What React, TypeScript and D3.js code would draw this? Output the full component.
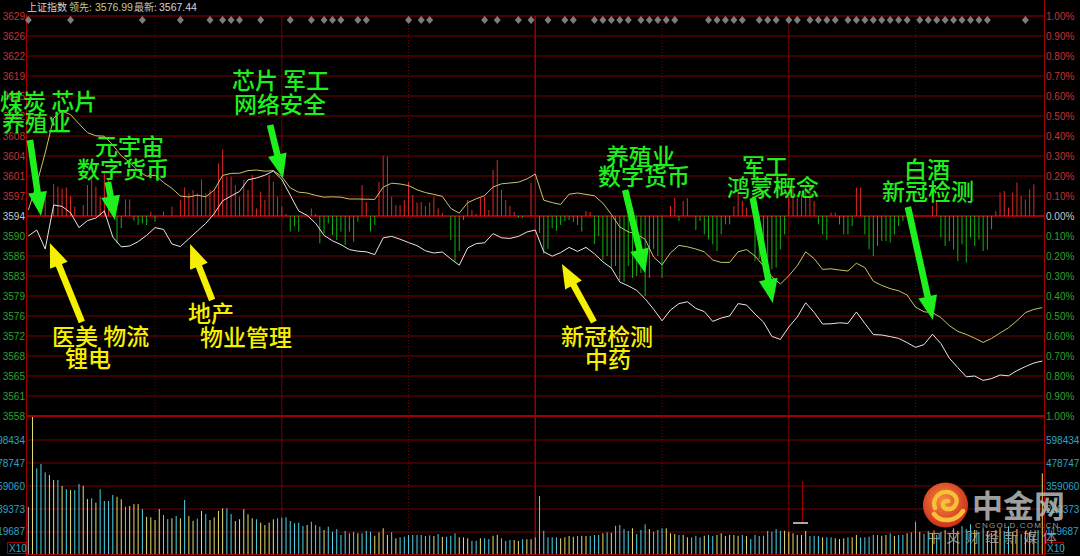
import * as React from "react";
import * as d3 from "d3";

const width = 1080;
const height = 556;

const stockName = "上证指数";
const leadLast = "3576.99";
const priceLast = "3567.44";

// left axis price labels, top (+1.00%) to bottom (-1.00%)
const priceLabels = [
  "3629", "3626", "3622", "3619", "3615", "3612", "3608", "3604", "3601", "3597", "3594",
  "3590", "3586", "3583", "3579", "3576", "3572", "3568", "3565", "3561", "3558",
];
const pctTicks = [1, 0.9, 0.8, 0.7, 0.6, 0.5, 0.4, 0.3, 0.2, 0.1, 0, -0.1, -0.2, -0.3, -0.4, -0.5, -0.6, -0.7, -0.8, -0.9, -1];
const volTicks = [598434, 478747, 359060, 239373, 119687];
const halfHours = [30, 60, 90, 120, 150, 180, 210];

// price (white) and leading index (yellow), % change vs previous close, every 2 minutes
const pricePct = [
  -0.1, -0.07, -0.165, 0.055, 0.048, 0.016, -0.058, -0.023, -0.01, 0.025,
  -0.105, -0.154, -0.15, -0.128, -0.097, -0.058, -0.067, -0.14, -0.153, -0.114,
  -0.075, -0.037, 0.012, 0.076, 0.1, 0.123, 0.181, 0.19, 0.204, 0.225,
  0.183, 0.104, 0.025, 0.003, -0.036, -0.097, -0.124, -0.143, -0.168, -0.176,
  -0.179, -0.193, -0.109, -0.102, -0.116, -0.133, -0.148, -0.174, -0.185, -0.18,
  -0.214, -0.246, -0.16, -0.138, -0.134, -0.088, -0.109, -0.112, -0.102, -0.08,
  -0.07, -0.179, -0.201, -0.183, -0.157, -0.177, -0.157, -0.189, -0.229, -0.26,
  -0.33, -0.349, -0.372, -0.414, -0.466, -0.524, -0.47, -0.438, -0.429, -0.462,
  -0.478, -0.527, -0.51, -0.5, -0.438, -0.445, -0.49, -0.53, -0.602, -0.617,
  -0.555, -0.505, -0.434, -0.482, -0.54, -0.539, -0.534, -0.537, -0.48, -0.537,
  -0.593, -0.595, -0.603, -0.612, -0.633, -0.657, -0.643, -0.591, -0.638, -0.711,
  -0.758, -0.804, -0.8, -0.822, -0.813, -0.795, -0.799, -0.773, -0.753, -0.735,
  -0.725,
];
const leadPct = [
  0.03, 0.16, 0.315, 0.49, 0.525, 0.507, 0.461, 0.417, 0.401, 0.399,
  0.355, 0.301, 0.268, 0.226, 0.199, 0.204, 0.168, 0.138, 0.1, 0.095,
  0.104, 0.096, 0.13, 0.203, 0.213, 0.214, 0.227, 0.23, 0.224, 0.227,
  0.197, 0.14, 0.119, 0.115, 0.103, 0.094, 0.096, 0.094, 0.085, 0.085,
  0.084, 0.083, 0.144, 0.164, 0.16, 0.152, 0.131, 0.117, 0.108, 0.098,
  0.038, 0.014, 0.067, 0.086, 0.102, 0.145, 0.161, 0.165, 0.169, 0.185,
  0.21, 0.079, 0.067, 0.058, 0.109, 0.115, 0.108, 0.101, 0.064, 0.008,
  -0.055, -0.079, -0.09, -0.117, -0.205, -0.244, -0.184, -0.147, -0.154, -0.165,
  -0.179, -0.22, -0.232, -0.232, -0.179, -0.168, -0.2, -0.25, -0.304, -0.34,
  -0.299, -0.249, -0.179, -0.213, -0.267, -0.264, -0.27, -0.275, -0.236, -0.258,
  -0.326, -0.347, -0.363, -0.374, -0.395, -0.456, -0.479, -0.483, -0.508, -0.548,
  -0.577, -0.592, -0.611, -0.632, -0.612, -0.585, -0.559, -0.524, -0.483, -0.467,
  -0.458,
];

// buy/sell strength bars per minute (red up, green down), in % axis units
const strength = [
  0, 0, 0, 0, 0.11, 0, 0.16, 0.147, 0.138, 0.143,
  0.1, 0.047, 0, 0.055, 0.155, 0.188, 0.147, 0.097, 0.213, 0.18,
  0.088, -0.137, -0.06, 0.083, 0.083, -0.023, -0.045, -0.037, -0.045, 0.022,
  -0.028, 0, 0.022, 0, 0.047, 0, 0.08, 0.143, 0.113, 0.13,
  0.113, 0.183, 0.113, 0.13, 0.13, 0.263, 0.333, 0.197, 0.197, 0.155,
  0.097, 0.18, 0.13, 0.205, 0.038, 0.122, 0.08, 0.205, 0.172, 0.097,
  0.047, 0.01, -0.078, -0.053, -0.078, 0, 0, 0.038, 0.01, -0.137,
  -0.087, -0.037, -0.095, -0.12, -0.078, -0.145, -0.078, -0.128, -0.028, 0.155,
  0.07, -0.078, -0.045, 0.17, 0.3, 0.297, 0.097, 0.055, 0.055, 0.08,
  0.17, 0.105, 0.067, 0.07, 0.05, 0.067, 0.097, 0.038, 0.015, 0,
  -0.12, -0.225, -0.175, -0.02, 0.08, 0.03, 0.01, 0.09, 0.097, 0.03,
  0.23, 0.28, 0.13, 0.08, 0.05, 0.02, -0.01, -0.01, 0, 0.165,
  0, -0.085, -0.19, -0.165, -0.06, -0.075, -0.045, -0.025, -0.02, -0.03,
  -0.045, -0.078, 0.025, 0.02, -0.14, -0.1, -0.22, -0.2, -0.26, -0.25,
  -0.32, -0.33, -0.25, -0.31, -0.3, -0.285, -0.4, -0.31, -0.165, -0.2,
  -0.31, 0, 0.05, 0.09, -0.025, 0.075, 0.09, 0, -0.07, -0.025,
  -0.092, -0.117, -0.142, -0.175, -0.092, -0.042, -0.042, 0.05, 0.125, 0.075,
  0.042, 0, -0.225, -0.215, -0.267, -0.225, -0.267, -0.258, -0.167, -0.092,
  0.108, 0.158, 0.092, 0.108, 0.15, 0.158, 0.075, -0.042, -0.092, -0.117,
  0.017, 0.017, -0.042, -0.092, -0.092, -0.05, 0.142, 0.142, -0.092, -0.167,
  -0.2, -0.15, -0.125, -0.125, -0.133, -0.092, -0.05, -0.025, 0, 0,
  0, 0, 0, 0, 0.05, 0.075, -0.108, -0.15, -0.125, -0.167,
  -0.225, -0.142, -0.233, -0.108, -0.15, -0.117, -0.175, -0.167, -0.067, 0.025,
  0.117, 0.125, 0.042, 0.117, 0.167, 0.1, 0.083, 0.133, 0.158, 0,
  0,
];

// volume per minute, thousands (axis shown X10)
const volume = [
  250, 720, 451, 474, 430, 416, 390, 390, 359, 342,
  338, 338, 369, 360, 291, 295, 272, 342, 281, 281,
  312, 303, 290, 251, 255, 265, 265, 239, 199, 196,
  182, 239, 208, 187, 191, 203, 191, 286, 203, 178,
  189, 229, 213, 182, 196, 229, 243, 243, 213, 177,
  186, 238, 212, 191, 186, 168, 156, 168, 186, 191,
  194, 196, 177, 165, 168, 151, 156, 173, 156, 147,
  130, 147, 121, 134, 104, 125, 113, 120, 113, 113,
  125, 121, 100, 118, 139, 104, 118, 87, 92, 95,
  104, 104, 104, 104, 99, 102, 99, 109, 95, 95,
  100, 113, 92, 92, 87, 74, 74, 87, 87, 83,
  100, 104, 87, 73, 78, 78, 73, 82, 82, 83,
  92, 307, 126, 92, 92, 92, 87, 92, 99, 95,
  99, 100, 99, 100, 104, 104, 113, 118, 116, 152,
  156, 135, 125, 139, 109, 130, 160, 135, 121, 130,
  139, 139, 113, 109, 104, 104, 92, 92, 100, 92,
  100, 104, 99, 104, 113, 99, 104, 104, 100, 104,
  99, 83, 104, 99, 100, 125, 121, 135, 126, 126,
  121, 113, 104, 104, 125, 99, 100, 99, 92, 92,
  92, 87, 83, 87, 92, 92, 104, 92, 92, 95,
  104, 104, 100, 104, 113, 99, 104, 104, 113, 118,
  173, 120, 110, 125, 115, 105, 120, 130, 115, 140,
  125, 150, 135, 160, 130, 120, 140, 125, 115, 130,
  140, 125, 150, 120, 135, 110, 125, 120, 105, 130,
  425,
];
// y = up minute, c = down minute, w = flat
const volDir =
  "wycccyycyc" + "yccyycyccc" + "cyycyyycyy" + "yyccycycyy" + "cycyyyyccy" +
  "yyyycyyyyc" + "ccccccyccc" + "ycccccccyc" + "ccyyyycycc" + "ccccccycyc" +
  "ccyyyccycc" + "yycccyycyy" + "ccccccyyyy" + "cyycccycyc" + "cccycccycc" +
  "cyyycyyccc" + "yccyywyyyc" + "yccccccccy" + "yyyyycccyc" + "cyyycyyccc" +
  "ccyycyccyc" + "cyccyccycc" + "ycccyccycy" + "yccyycyyyc" + "y";

// minutes carrying a signal diamond on the top row
const signalMinutes = [
  0, 10, 27, 36, 43, 46, 48, 50, 55, 62, 67, 70, 72, 74, 78, 80, 90, 93, 95, 108, 111, 116, 119,
  123, 127, 129, 134, 136, 138, 140, 142, 145, 147, 149, 151, 153, 161, 163, 165, 167, 169, 173,
  175, 177, 180, 182, 185, 187, 189, 191, 194, 196, 198, 200, 202, 204, 206, 208, 211, 213, 215,
  217, 219, 221, 223, 225, 227, 236,
];

// hot-sector notes
const greenNotes = [
  { lines: ["煤炭 芯片", "养殖业"], at: [[0, 110], [2, 131]] },
  { lines: ["元宇宙", "数字货币"], at: [[95, 155], [77, 178]] },
  { lines: ["芯片 军工", "网络安全"], at: [[232, 89], [234, 113]] },
  { lines: ["养殖业", "数字货币"], at: [[606, 165], [598, 185]] },
  { lines: ["军工", "鸿蒙概念"], at: [[742, 175], [727, 196]] },
  { lines: ["白酒", "新冠检测"], at: [[904, 178], [882, 200]] },
];
const yellowNotes = [
  { lines: ["医美 物流", "锂电"], at: [[52, 345], [65, 367]] },
  { lines: ["地产", "物业管理"], at: [[188, 322], [200, 346]] },
  { lines: ["新冠检测", "中药"], at: [[561, 345], [585, 368]] },
];
// arrows: tip at (minute, pct), tail offset in px
const greenArrows = [
  { minute: 3, pct: 0, dx: -11, dy: -76 },
  { minute: 20.5, pct: -0.02, dx: -7, dy: -38 },
  { minute: 60.3, pct: 0.19, dx: -13, dy: -53 },
  { minute: 146, pct: -0.285, dx: -20, dy: -83 },
  { minute: 176.2, pct: -0.435, dx: -20, dy: -105 },
  { minute: 214.1, pct: -0.52, dx: -25, dy: -113 },
];
const yellowArrows = [
  { minute: 5.1, pct: -0.135, dx: 32, dy: 79 },
  { minute: 38.3, pct: -0.14, dx: 22, dy: 56 },
  { minute: 126.3, pct: -0.24, dx: 32, dy: 58 },
];

const numFont = "'Liberation Sans', Arial, sans-serif";
const cjkFont = "'Noto Sans CJK SC', 'Noto Sans', sans-serif";
const gridColor = "#7a0000";
const frameColor = "#a00000";
const upColor = "#c83232";
const downColor = "#2aa52a";
const volText = "#2ea3c6";

const arrowPoints = (tx: number, ty: number, fx: number, fy: number) => {
  const shaft = 3.3;
  const head = 9.5;
  const headLen = 24;
  const len = Math.hypot(tx - fx, ty - fy);
  const ux = (tx - fx) / len;
  const uy = (ty - fy) / len;
  const nx = -uy;
  const ny = ux;
  const bx = tx - ux * headLen;
  const by = ty - uy * headLen;
  return [
    [fx + nx * shaft, fy + ny * shaft],
    [bx + nx * shaft, by + ny * shaft],
    [bx + nx * head, by + ny * head],
    [tx, ty],
    [bx - nx * head, by - ny * head],
    [bx - nx * shaft, by - ny * shaft],
    [fx - nx * shaft, fy - ny * shaft],
  ]
    .map((p) => p.join(","))
    .join(" ");
};

export default function App() {
  const x = d3.scaleLinear().domain([0, 240]).range([28.3, 1042.3]);
  const y = d3.scaleLinear().domain([-1, 1]).range([416, 16]);
  const yv = d3.scaleLinear().domain([0, 598.434]).range([555, 440]);

  const line = d3
    .line<number>()
    .x((_, k) => x(k * 2))
    .y((d) => y(d));

  const volColor = (c: string) => (c === "y" ? "#e6dc6e" : c === "c" ? "#4fd3e6" : "#c8c8c8");

  return (
    <div style={{ position: "fixed", left: 0, top: 0, width, height, background: "#000" }}>
      <svg width={width} height={height} style={{ display: "block" }}>
        <defs>
          <radialGradient id="wmBall" cx="45%" cy="40%" r="60%">
            <stop offset="0%" stopColor="#f58c3c" />
            <stop offset="100%" stopColor="#cf2e1c" />
          </radialGradient>
        </defs>
        <rect width={width} height={height} fill="#000" />

        {/* header */}
        <g fontFamily={numFont} fontSize={10.5}>
          <text x={27} y={11} fill="#d4d4d4" fontFamily={cjkFont} fontSize={10}>{stockName}</text>
          <text x={69} y={11} fill="#c8c88a" fontFamily={cjkFont} fontSize={10}>领先:</text>
          <text x={95} y={11} fill="#c8c88a">{leadLast}</text>
          <text x={134} y={11} fill="#c4c4c4" fontFamily={cjkFont} fontSize={10}>最新:</text>
          <text x={159} y={11} fill="#d4d4d4">{priceLast}</text>
        </g>

        {/* price grid */}
        {pctTicks.map((t) => (
          <line
            key={"h" + t}
            x1={26.5}
            x2={1044}
            y1={y(t)}
            y2={y(t)}
            stroke={t === 0 || t === -1 || t === 1 ? frameColor : gridColor}
            strokeWidth={t === 0 || t === -1 ? 2 : 1}
          />
        ))}
        {volTicks.map((v) => (
          <line key={"v" + v} x1={26.5} x2={1044} y1={yv(v / 1000)} y2={yv(v / 1000)} stroke={gridColor} />
        ))}
        <line x1={26.5} x2={1044} y1={yv(0) - 0.5} y2={yv(0) - 0.5} stroke={frameColor} />
        {halfHours.map((m) => (
          <line
            key={"t" + m}
            x1={x(m)}
            x2={x(m)}
            y1={16}
            y2={555}
            stroke={m === 120 ? "#9a0000" : gridColor}
            strokeWidth={m === 120 ? 1.5 : 1}
            strokeDasharray={m % 60 === 30 ? "1,2" : undefined}
          />
        ))}
        <line x1={26.5} x2={26.5} y1={14} y2={556} stroke={frameColor} />
        <line x1={1044.5} x2={1044.5} y1={0} y2={556} stroke={frameColor} />

        {/* left axis */}
        <g fontFamily={numFont} fontSize={10} textAnchor="end">
          {priceLabels.map((p, i) => (
            <text
              key={p}
              x={25}
              y={y(pctTicks[i]) + 3.5}
              fill={pctTicks[i] > 0 ? upColor : pctTicks[i] < 0 ? downColor : "#c8c8c8"}
            >
              {p}
            </text>
          ))}
          {volTicks.map((v) => (
            <text key={"lv" + v} x={25} y={yv(v / 1000) + 3.5} fill={volText}>
              {v}
            </text>
          ))}
        </g>
        {/* right axis */}
        <g fontFamily={numFont} fontSize={10}>
          {pctTicks.map((t) => (
            <text
              key={"r" + t}
              x={1046}
              y={y(t) + 3.5}
              fill={t > 0 ? upColor : t < 0 ? downColor : "#c8c8c8"}
            >
              {Math.abs(t).toFixed(2) + "%"}
            </text>
          ))}
          {volTicks.map((v) => (
            <text key={"rv" + v} x={1046} y={yv(v / 1000) + 3.5} fill={volText}>
              {v}
            </text>
          ))}
        </g>
        <g fontFamily={numFont} fontSize={10} fill={volText}>
          <rect x={7.5} y={542.5} width={18} height={11} fill="none" stroke={frameColor} />
          <text x={9} y={552}>X10</text>
          <rect x={1045.5} y={542.5} width={18} height={11} fill="none" stroke={frameColor} />
          <text x={1047} y={552}>X10</text>
        </g>

        {/* signal diamonds */}
        {signalMinutes.map((m) => {
          const cx = x(m);
          return (
            <path
              key={"d" + m}
              d={`M${cx},16 L${cx + 3.5},20 L${cx},24 L${cx - 3.5},20 Z`}
              fill="#7c7c7c"
            />
          );
        })}

        {/* strength bars */}
        {strength.map((v, i) =>
          v === 0 ? null : (
            <line
              key={"s" + i}
              x1={x(i)}
              x2={x(i)}
              y1={y(0)}
              y2={y(v)}
              stroke={v > 0 ? "#dc2828" : "#12b012"}
              strokeWidth={1}
            />
          )
        )}

        {/* volume */}
        {volume.map((v, i) => (
          <line
            key={"vol" + i}
            x1={x(i)}
            x2={x(i)}
            y1={yv(0) - 1}
            y2={Math.max(yv(v), 417)}
            stroke={volColor(volDir[i])}
            strokeWidth={1}
          />
        ))}

        {/* lines */}
        <path d={line(leadPct) || ""} fill="none" stroke="#c8c46a" strokeWidth={1} />
        <path d={line(pricePct) || ""} fill="none" stroke="#e6e6e6" strokeWidth={1} />

        {/* small marks in the volume pane */}
        <line x1={802.5} x2={802.5} y1={481} y2={522} stroke={frameColor} />
        <line x1={793} x2={808} y1={523} y2={523} stroke="#e0e0e0" strokeWidth={1.5} />

        {/* notes */}
        <g fontFamily={cjkFont} fontSize={23} fontWeight={500}>
          {greenNotes.map((n, i) =>
            n.lines.map((t, j) => (
              <text key={"g" + i + j} x={n.at[j][0]} y={n.at[j][1]} fill="#1ef01e">
                {t}
              </text>
            ))
          )}
          {yellowNotes.map((n, i) =>
            n.lines.map((t, j) => (
              <text key={"y" + i + j} x={n.at[j][0]} y={n.at[j][1]} fill="#f5f000">
                {t}
              </text>
            ))
          )}
        </g>
        {greenArrows.map((a, i) => {
          const tx = x(a.minute);
          const ty = y(a.pct);
          return <polygon key={"ga" + i} points={arrowPoints(tx, ty, tx + a.dx, ty + a.dy)} fill="#1ef01e" />;
        })}
        {yellowArrows.map((a, i) => {
          const tx = x(a.minute);
          const ty = y(a.pct);
          return <polygon key={"ya" + i} points={arrowPoints(tx, ty, tx + a.dx, ty + a.dy)} fill="#f5f000" />;
        })}

        {/* watermark */}
        <g>
          <circle cx={945.5} cy={505} r={22.5} fill="url(#wmBall)" />
          <path
            d="M935,508 C931,496 944,488 953,494 C960,499 956,510 947,509 C941,508 942,500 948,501 M934,514 C941,523 956,522 963,511"
            fill="none"
            stroke="#f8bf3a"
            strokeWidth={4.5}
            strokeLinecap="round"
          />
          <text x={972} y={517} fontFamily={cjkFont} fontSize={31} fontWeight={700} fill="#bcbcbc" fillOpacity={0.85}>
            中金网
          </text>
          <text x={975} y={528} fontFamily={numFont} fontSize={8} letterSpacing={1.2} fill="#9a9a9a">
            CNGOLD.COM.CN
          </text>
          <text x={927} y={542} fontFamily={cjkFont} fontSize={14} letterSpacing={5.3} fill="#a8a8a8" fillOpacity={0.85}>
            中文财经新媒体
          </text>
        </g>
      </svg>
    </div>
  );
}
